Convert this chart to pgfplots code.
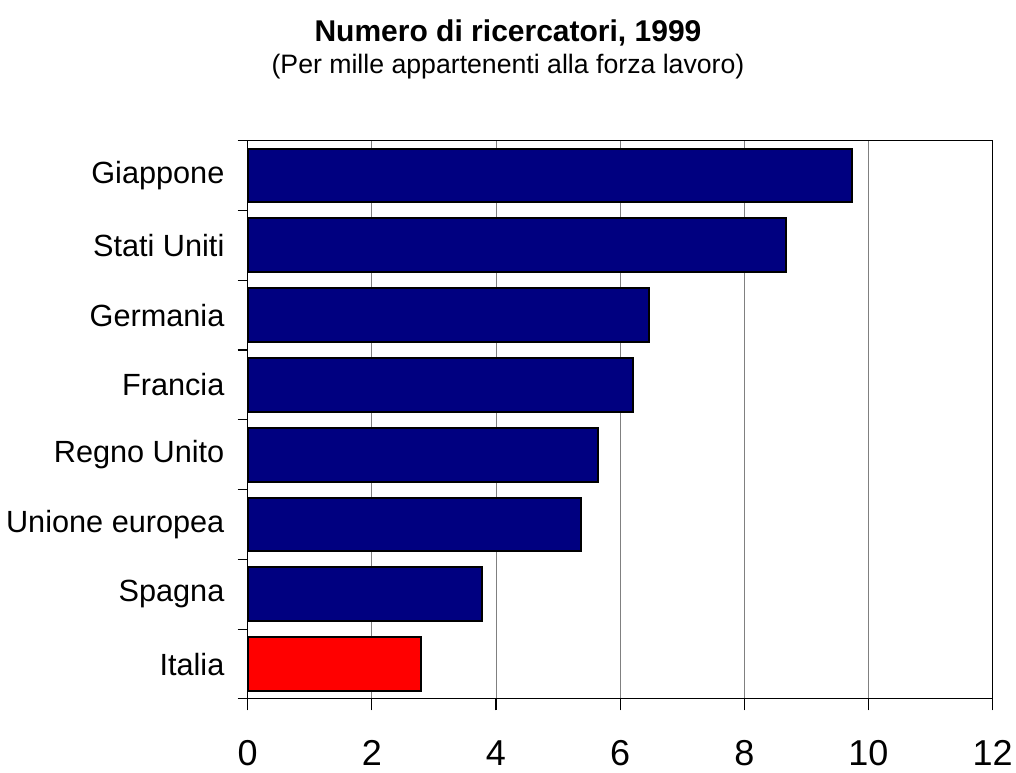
\documentclass[border=0pt]{standalone}
\usepackage{pgfplots}
\pgfplotsset{compat=1.18}
\usepackage{fontspec}
\setmainfont{Liberation Sans}
\definecolor{barblue}{HTML}{000080}
\definecolor{barred}{HTML}{FF0000}
\definecolor{gridgray}{HTML}{808080}

\begin{document}
\begin{tikzpicture}
\begin{axis}[
    xbar,
    scale only axis,
    width=558.6pt, height=418.7pt,
    xmin=0, xmax=12,
    ymin=-0.5, ymax=7.5,
    y dir=reverse,
    xtick={0,2,...,12},
    ytick={0,...,7},
    yticklabels={Giappone, Stati Uniti, Germania, Francia, Regno Unito, Unione europea, Spagna, Italia},
    minor ytick={-0.5,0.5,1.5,2.5,3.5,4.5,5.5,6.5,7.5},
    major y tick style={draw=none},
    minor tick length=7.5pt,
    major tick length=8.5pt,
    tick align=outside,
    xtick pos=bottom, ytick pos=left,
    tick style={black, line width=0.8pt},
    xmajorgrids=true,
    grid style={gridgray, line width=0.75pt},
    axis line style={black, line width=0.8pt},
    /pgf/number format/assume math mode=true,
    xticklabel style={font=\fontsize{27}{30}\selectfont, anchor=base, yshift=-41.5pt},
    yticklabel style={font=\fontsize{23}{26}\selectfont, anchor=east, xshift=-5.5pt},
    bar width=0.77,
    bar shift=0pt,
    clip=false,
]
\addplot[fill=barblue, draw=black, line width=1.5pt] coordinates {
    (9.73,0) (8.68,1) (6.46,2) (6.21,3) (5.65,4) (5.37,5) (3.78,6)
};
\addplot[fill=barred, draw=black, line width=1.5pt] coordinates {
    (2.79,7)
};
\end{axis}
\node[anchor=base, font=\fontsize{22.5}{26}\selectfont\bfseries]
    at ([xshift=195.2pt, yshift=74pt]current axis.north west) {Numero di ricercatori, 1999};
\node[anchor=base, font=\fontsize{20}{24}\selectfont]
    at ([xshift=195.2pt, yshift=50pt]current axis.north west) {(Per mille appartenenti alla forza lavoro)};
\pgfresetboundingbox
\path[use as bounding box] ([xshift=-185.8pt, yshift=-55pt]current axis.south west)
    rectangle ([xshift=17.6pt, yshift=105.5pt]current axis.north east);
\end{tikzpicture}
\end{document}
